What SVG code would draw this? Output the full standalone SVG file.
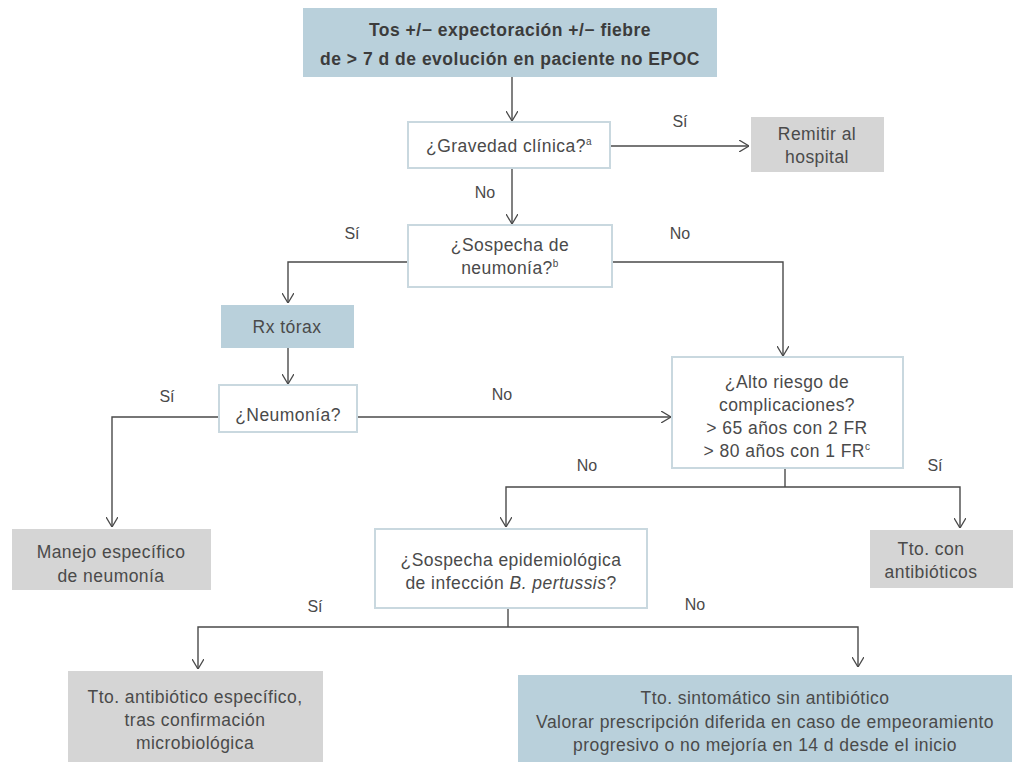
<svg xmlns="http://www.w3.org/2000/svg" width="1015" height="762" viewBox="0 0 1015 762">
<defs>
<marker id="arr" viewBox="0 0 10 12" refX="10" refY="6" markerWidth="10" markerHeight="12" markerUnits="userSpaceOnUse" orient="auto">
<path d="M0,0 L10,6 L0,12" fill="none" stroke="#4a4a4a" stroke-width="1.3"/>
</marker>
</defs>
<style>
text{font-family:"Liberation Sans",Arial,sans-serif;font-size:17.5px;letter-spacing:0.45px;fill:#4a4a4a;text-anchor:middle}
.lbl{font-size:16px;letter-spacing:0}
.title{font-weight:bold;fill:#3c3c3c;font-size:17.5px;letter-spacing:0.5px}
.blue{fill:#b9d0db;stroke:none}
.gray{fill:#d5d5d5;stroke:none}
.white{fill:#ffffff;stroke:#c9d8df;stroke-width:2}
.conn path{fill:none;stroke:#4a4a4a;stroke-width:1.4}
</style>
<rect width="1015" height="762" fill="#ffffff"/>
<g class="conn">
<path d="M512 77 V121" marker-end="url(#arr)"/>
<path d="M610 146 H749" marker-end="url(#arr)"/>
<path d="M512 168 V224" marker-end="url(#arr)"/>
<path d="M408 262 H288 V303" marker-end="url(#arr)"/>
<path d="M612 262 H783 V356" marker-end="url(#arr)"/>
<path d="M288 348 V384" marker-end="url(#arr)"/>
<path d="M219 417 H112 V527" marker-end="url(#arr)"/>
<path d="M357 417 H671" marker-end="url(#arr)"/>
<path d="M785 468 V487"/>
<path d="M785 487 H506 V527" marker-end="url(#arr)"/>
<path d="M785 487 H960 V528" marker-end="url(#arr)"/>
<path d="M508 608 V627"/>
<path d="M508 627 H198 V669" marker-end="url(#arr)"/>
<path d="M508 627 H858 V667" marker-end="url(#arr)"/>
</g>
<g id="labels">
<text class="lbl" x="680" y="127">Sí</text>
<text class="lbl" x="485" y="198">No</text>
<text class="lbl" x="352" y="239">Sí</text>
<text class="lbl" x="680" y="239">No</text>
<text class="lbl" x="167" y="402">Sí</text>
<text class="lbl" x="502" y="400">No</text>
<text class="lbl" x="587" y="471">No</text>
<text class="lbl" x="935" y="471">Sí</text>
<text class="lbl" x="315" y="612">Sí</text>
<text class="lbl" x="695" y="610">No</text>
</g>
<g id="n-start">
<rect class="blue" x="303" y="8" width="414" height="69"/>
<text class="title" x="510" y="36">Tos +/− expectoración +/− fiebre</text>
<text class="title" x="510" y="65">de &gt; 7 d de evolución en paciente no EPOC</text>
</g>
<g id="n-gravedad">
<rect class="white" x="408" y="122" width="202" height="46"/>
<text x="509" y="152">¿Gravedad clínica?<tspan font-size="10" dy="-7">a</tspan></text>
</g>
<g id="n-remitir">
<rect class="gray" x="751" y="117" width="133" height="55"/>
<text x="817" y="140">Remitir al</text>
<text x="817" y="163">hospital</text>
</g>
<g id="n-sospecha">
<rect class="white" x="408" y="225" width="204" height="62"/>
<text x="510" y="251">¿Sospecha de</text>
<text x="510" y="274">neumonía?<tspan font-size="10" dy="-7">b</tspan></text>
</g>
<g id="n-rx">
<rect class="blue" x="221" y="305" width="133" height="43"/>
<text x="287" y="333">Rx tórax</text>
</g>
<g id="n-neumonia">
<rect class="white" x="219" y="385" width="138" height="47"/>
<text x="288" y="421">¿Neumonía?</text>
</g>
<g id="n-alto">
<rect class="white" x="672" y="357" width="231" height="111"/>
<text x="787" y="388">¿Alto riesgo de</text>
<text x="787" y="411">complicaciones?</text>
<text x="787" y="434">&gt; 65 años con 2 FR</text>
<text x="787" y="457">&gt; 80 años con 1 FR<tspan font-size="10" dy="-7">c</tspan></text>
</g>
<g id="n-manejo">
<rect class="gray" x="12" y="529" width="199" height="61"/>
<text x="111" y="558">Manejo específico</text>
<text x="111" y="582">de neumonía</text>
</g>
<g id="n-epidem">
<rect class="white" x="375" y="529" width="272" height="79"/>
<text x="511" y="566">¿Sospecha epidemiológica</text>
<text x="511" y="589">de infección <tspan font-style="italic">B. pertussis</tspan>?</text>
</g>
<g id="n-ttoab">
<rect class="gray" x="870" y="530" width="143" height="58"/>
<text x="931" y="555">Tto. con</text>
<text x="931" y="578">antibióticos</text>
</g>
<g id="n-ttoesp">
<rect class="gray" x="68" y="671" width="255" height="91"/>
<text x="195" y="703">Tto. antibiótico específico,</text>
<text x="195" y="726">tras confirmación</text>
<text x="195" y="749">microbiológica</text>
</g>
<g id="n-ttosint">
<rect class="blue" x="518" y="675" width="494" height="87"/>
<text x="765" y="704">Tto. sintomático sin antibiótico</text>
<text x="765" y="728">Valorar prescripción diferida en caso de empeoramiento</text>
<text x="765" y="751">progresivo o no mejoría en 14 d desde el inicio</text>
</g>
</svg>
